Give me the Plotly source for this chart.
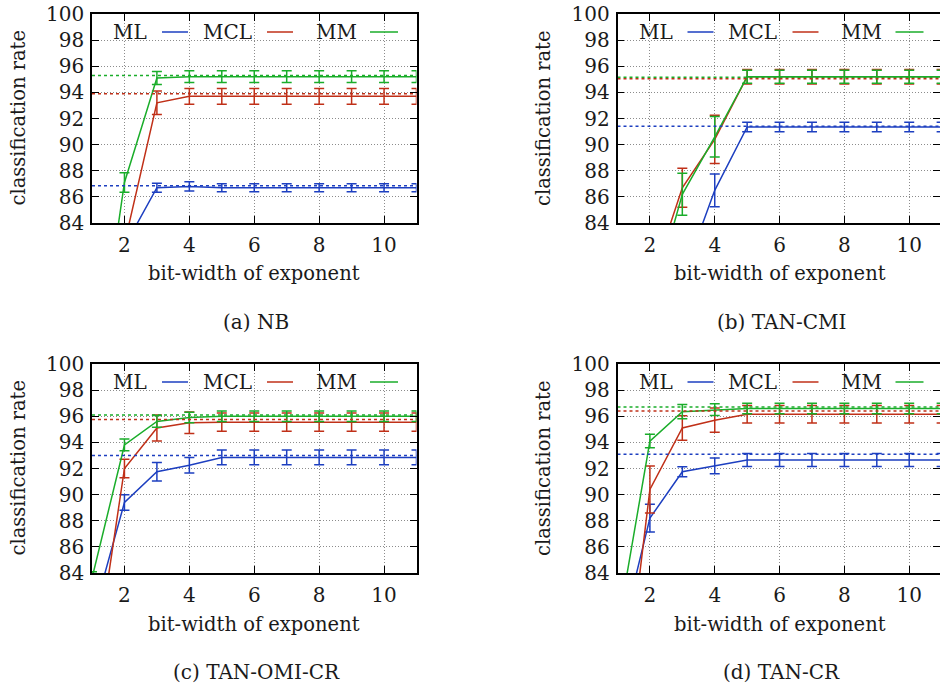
import plotly.graph_objects as go

# ---------------- data ----------------
bits = [1, 2, 3, 4, 5, 6, 7, 8, 9, 10, 11]
series_names = ["ML", "MCL", "MM"]
panel_captions = ["(a) NB", "(b) TAN-CMI", "(c) TAN-OMI-CR", "(d) TAN-CR"]
x_ticks = [2, 4, 6, 8, 10]
y_ticks = [84, 86, 88, 90, 92, 94, 96, 98, 100]

# (a) NB
nb_ml = [70.0, 82.2, 86.7, 86.8, 86.7, 86.7, 86.7, 86.7, 86.7, 86.7, 86.7]
nb_ml_err = [0.5, 0.5, 0.35, 0.35, 0.3, 0.3, 0.3, 0.3, 0.3, 0.3, 0.3]
nb_mcl = [66.0, 82.4, 93.2, 93.7, 93.7, 93.7, 93.7, 93.7, 93.7, 93.7, 93.7]
nb_mcl_err = [0.5, 0.5, 0.9, 0.6, 0.6, 0.6, 0.6, 0.6, 0.6, 0.6, 0.6]
nb_mm = [70.0, 87.1, 95.1, 95.2, 95.2, 95.2, 95.2, 95.2, 95.2, 95.2, 95.2]
nb_mm_err = [0.5, 0.75, 0.5, 0.45, 0.45, 0.45, 0.45, 0.45, 0.45, 0.45, 0.45]
nb_ref = [86.85, 93.9, 95.3]

# (b) TAN-CMI
cmi_ml = [70.0, 74.0, 79.7, 86.5, 91.35, 91.35, 91.35, 91.35, 91.35, 91.35, 91.35]
cmi_ml_err = [0.5, 0.5, 0.5, 1.25, 0.37, 0.37, 0.37, 0.37, 0.37, 0.37, 0.37]
cmi_mcl = [72.0, 79.2, 86.7, 90.4, 95.2, 95.2, 95.2, 95.2, 95.2, 95.2, 95.2]
cmi_mcl_err = [0.5, 0.5, 1.5, 1.85, 0.55, 0.55, 0.55, 0.55, 0.55, 0.55, 0.55]
cmi_mm = [70.0, 77.4, 86.2, 90.6, 95.2, 95.2, 95.2, 95.2, 95.2, 95.2, 95.2]
cmi_mm_err = [0.5, 0.5, 1.6, 1.55, 0.5, 0.5, 0.5, 0.5, 0.5, 0.5, 0.5]
cmi_ref = [91.4, 95.05, 95.15]

# (c) TAN-OMI-CR
omi_ml = [80.4, 89.4, 91.75, 92.25, 92.85, 92.85, 92.85, 92.85, 92.85, 92.85, 92.85]
omi_ml_err = [0.5, 0.6, 0.7, 0.6, 0.57, 0.57, 0.57, 0.57, 0.57, 0.57, 0.57]
omi_mcl = [75.3, 92.0, 95.1, 95.5, 95.55, 95.55, 95.55, 95.55, 95.55, 95.55, 95.55]
omi_mcl_err = [0.5, 0.7, 1.0, 0.82, 0.7, 0.7, 0.7, 0.7, 0.7, 0.7, 0.7]
omi_mm = [83.6, 93.8, 95.6, 95.9, 96.0, 96.0, 96.0, 96.0, 96.0, 96.0, 96.0]
omi_mm_err = [0.5, 0.45, 0.45, 0.4, 0.4, 0.4, 0.4, 0.4, 0.4, 0.4, 0.4]
omi_ref = [93.0, 95.75, 96.1]

# (d) TAN-CR
cr_ml = [78.0, 88.2, 91.75, 92.2, 92.65, 92.65, 92.65, 92.65, 92.65, 92.65, 92.65]
cr_ml_err = [0.5, 1.07, 0.38, 0.6, 0.5, 0.5, 0.5, 0.5, 0.5, 0.5, 0.5]
cr_mcl = [69.8, 90.4, 95.1, 95.7, 96.15, 96.15, 96.15, 96.15, 96.15, 96.15, 96.15]
cr_mcl_err = [0.5, 1.8, 0.93, 0.93, 0.67, 0.67, 0.67, 0.67, 0.67, 0.67, 0.67]
cr_mm = [79.7, 94.1, 96.35, 96.5, 96.6, 96.6, 96.6, 96.6, 96.6, 96.6, 96.6]
cr_mm_err = [0.5, 0.52, 0.55, 0.45, 0.4, 0.4, 0.4, 0.4, 0.4, 0.4, 0.4]
cr_ref = [93.1, 96.4, 96.7]

panels = [
    ([nb_ml, nb_mcl, nb_mm], [nb_ml_err, nb_mcl_err, nb_mm_err], nb_ref),
    ([cmi_ml, cmi_mcl, cmi_mm], [cmi_ml_err, cmi_mcl_err, cmi_mm_err], cmi_ref),
    ([omi_ml, omi_mcl, omi_mm], [omi_ml_err, omi_mcl_err, omi_mm_err], omi_ref),
    ([cr_ml, cr_mcl, cr_mm], [cr_ml_err, cr_mcl_err, cr_mm_err], cr_ref),
]

# ---------------- style / layout ----------------
W, H = 940, 686
colors = ["#1d3fc0", "#c03018", "#1aad2a"]
FONT = "DejaVu Serif"
TXT = "#1a1a1a"

# plot boxes in pixels: (left, right, top, bottom), x-range
boxes = [
    (92, 416.5, 14, 223, [1, 11]),
    (617.5, 940, 14, 223, [1, 10.95]),
    (92, 416.5, 364, 573, [1, 11]),
    (617.5, 940, 364, 573, [1, 10.95]),
]


def px(x):
    return x / W


def py(y):
    return 1 - y / H


fig = go.Figure()
layout = dict(
    width=W, height=H, margin=dict(l=0, r=0, t=0, b=0, pad=0, autoexpand=False),
    paper_bgcolor="white", plot_bgcolor="white", showlegend=False,
    font=dict(family=FONT, size=19, color=TXT),
)
annotations = []
shapes = []

for i, ((ys, errs, refs), (l, r, t, b, xr)) in enumerate(zip(panels, boxes)):
    n = i + 1
    xa = "x" if n == 1 else f"x{n}"
    ya = "y" if n == 1 else f"y{n}"
    xkey = "xaxis" if n == 1 else f"xaxis{n}"
    ykey = "yaxis" if n == 1 else f"yaxis{n}"
    common = dict(
        showline=True, linecolor="black", linewidth=1.5, mirror="allticks",
        ticks="inside", ticklen=7, tickwidth=1.2, tickcolor="black",
        showgrid=True, gridcolor="#8c8c8c", griddash="1px,2px", gridwidth=1,
        zeroline=False, automargin=False,
        tickfont=dict(family=FONT, size=20, color=TXT),
    )
    layout[xkey] = dict(
        common, domain=[px(l), px(r)], range=xr, anchor=ya,
        tickvals=x_ticks, ticklabelstandoff=3,
    )
    layout[ykey] = dict(
        common, domain=[py(b), py(t)], range=[84, 100], anchor=xa,
        tickvals=y_ticks, ticklabelstandoff=2,
    )
    for k in range(3):
        fig.add_trace(go.Scatter(
            x=bits, y=ys[k], mode="lines", xaxis=xa, yaxis=ya,
            line=dict(color=colors[k], width=1.5),
            error_y=dict(type="data", array=errs[k], visible=True,
                         color=colors[k], thickness=1.5, width=5),
            name=series_names[k],
        ))
    for k in range(3):
        fig.add_trace(go.Scatter(
            x=[bits[0], bits[-1]], y=[refs[k], refs[k]], mode="lines",
            xaxis=xa, yaxis=ya,
            line=dict(color=colors[k], width=1.5, dash="3px,3px"),
            hoverinfo="skip",
        ))
    # legend (gnuplot style: label then sample)
    ly = t + 18
    label_cx = [l + 38, l + 135, l + 244]
    sample_x = [(l + 70, l + 96), (l + 175, l + 201), (l + 278, l + 306)]
    for k in range(3):
        annotations.append(dict(
            x=px(label_cx[k]), y=py(ly), xref="paper", yref="paper",
            text=series_names[k], showarrow=False, xanchor="center",
            yanchor="middle", font=dict(family=FONT, size=20, color=TXT),
        ))
        shapes.append(dict(
            type="line", xref="paper", yref="paper",
            x0=px(sample_x[k][0]), x1=px(sample_x[k][1]),
            y0=py(ly), y1=py(ly), line=dict(color=colors[k], width=1.5),
        ))
    # axis titles and caption
    cx = (l + (l + 324.5)) / 2
    annotations.append(dict(
        x=px(cx), y=py(b + 51), xref="paper", yref="paper",
        text="bit-width of exponent", showarrow=False, xanchor="center",
        yanchor="middle", font=dict(family=FONT, size=19.5, color=TXT),
    ))
    annotations.append(dict(
        x=px(l - 74), y=py((t + b) / 2), xref="paper", yref="paper",
        text="classification rate", showarrow=False, textangle=-90,
        xanchor="center", yanchor="middle",
        font=dict(family=FONT, size=19.5, color=TXT),
    ))
    annotations.append(dict(
        x=px(cx + 2), y=py(b + 99), xref="paper", yref="paper",
        text=panel_captions[i], showarrow=False, xanchor="center",
        yanchor="middle", font=dict(family=FONT, size=20, color=TXT),
    ))

layout["annotations"] = annotations
layout["shapes"] = shapes
fig.update_layout(**layout)
fig.write_html("out.html")
